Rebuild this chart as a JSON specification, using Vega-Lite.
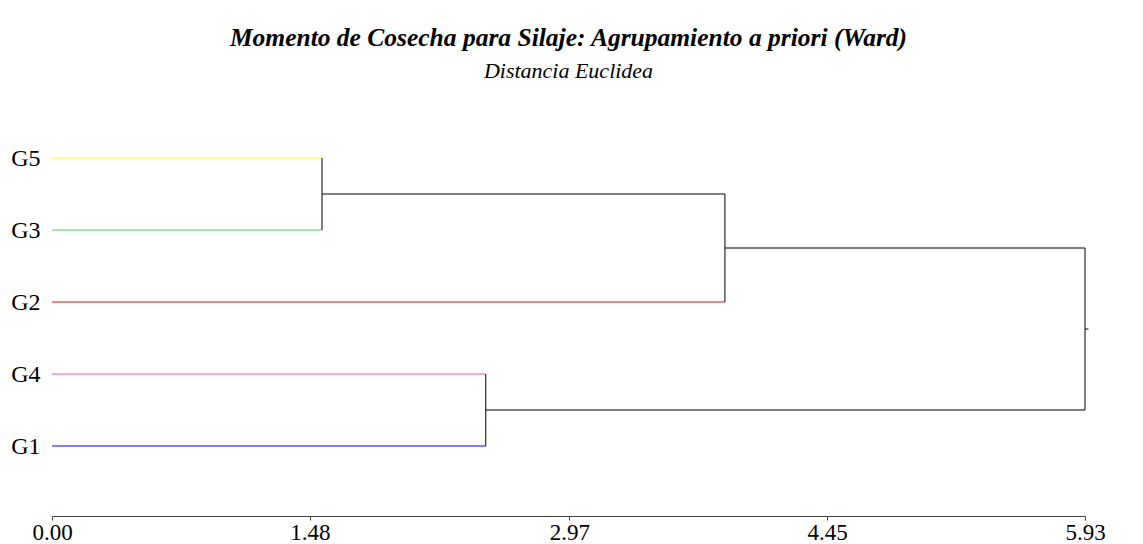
{
  "$schema": "https://vega.github.io/schema/vega-lite/v6.json",
  "width": 1033,
  "height": 430,
  "autosize": {"type": "none"},
  "padding": {"left": 52, "top": 86, "right": 58, "bottom": 28},
  "background": "white",
  "title": {
    "text": "Momento de Cosecha para Silaje: Agrupamiento a priori (Ward)",
    "subtitle": "Distancia Euclidea",
    "font": "Liberation Serif",
    "fontSize": 25.5,
    "fontStyle": "italic",
    "fontWeight": "bold",
    "color": "black",
    "subtitleFont": "Liberation Serif",
    "subtitleFontSize": 22,
    "subtitleFontStyle": "italic",
    "subtitleColor": "black",
    "subtitlePadding": 10,
    "anchor": "middle",
    "offset": 4
  },
  "config": {"view": {"stroke": null}},
  "data": {
    "values": [
      {"x": 0, "x2": 1.55, "y": 1, "y2": 1, "k": "G5"},
      {"x": 0, "x2": 1.55, "y": 2, "y2": 2, "k": "G3"},
      {"x": 0, "x2": 3.863, "y": 3, "y2": 3, "k": "G2"},
      {"x": 0, "x2": 2.49, "y": 4, "y2": 4, "k": "G4"},
      {"x": 0, "x2": 2.49, "y": 5, "y2": 5, "k": "G1"},
      {"x": 1.55, "x2": 1.55, "y": 1, "y2": 2, "k": "link"},
      {"x": 1.55, "x2": 3.863, "y": 1.5, "y2": 1.5, "k": "link"},
      {"x": 3.863, "x2": 3.863, "y": 1.5, "y2": 3, "k": "link"},
      {"x": 3.863, "x2": 5.93, "y": 2.25, "y2": 2.25, "k": "link"},
      {"x": 2.49, "x2": 2.49, "y": 4, "y2": 5, "k": "link"},
      {"x": 2.49, "x2": 5.93, "y": 4.5, "y2": 4.5, "k": "link"},
      {"x": 5.93, "x2": 5.93, "y": 2.25, "y2": 4.5, "k": "link"},
      {"x": 5.93, "x2": 5.95, "y": 3.375, "y2": 3.375, "k": "link"}
    ]
  },
  "mark": {"type": "rule", "strokeWidth": 1, "clip": false},
  "encoding": {
    "x": {
      "field": "x",
      "type": "quantitative",
      "scale": {"domain": [0, 5.93], "nice": false, "zero": true},
      "axis": {
        "title": null,
        "grid": false,
        "values": [0, 1.48, 2.97, 4.45, 5.93],
        "format": ".2f",
        "labelFont": "Liberation Serif",
        "labelFontSize": 23,
        "labelColor": "black",
        "domainColor": "#444",
        "tickColor": "#444",
        "tickSize": 4,
        "labelPadding": 1,
        "labelFlush": false
      }
    },
    "x2": {"field": "x2"},
    "y": {
      "field": "y",
      "type": "quantitative",
      "scale": {"domain": [0, 5.97222], "reverse": true, "nice": false},
      "axis": {
        "title": null,
        "grid": false,
        "domain": false,
        "ticks": false,
        "tickSize": 0,
        "values": [1, 2, 3, 4, 5],
        "labelExpr": "['','G5','G3','G2','G4','G1'][datum.value]",
        "labelFont": "Liberation Serif",
        "labelFontSize": 24,
        "labelColor": "black",
        "labelPadding": 12
      }
    },
    "y2": {"field": "y2"},
    "color": {
      "field": "k",
      "type": "nominal",
      "legend": null,
      "scale": {
        "domain": ["G5", "G3", "G2", "G4", "G1", "link"],
        "range": ["#ffff00", "#40dd50", "#d81818", "#ff50b8", "#0000ff", "#000000"]
      }
    }
  }
}
